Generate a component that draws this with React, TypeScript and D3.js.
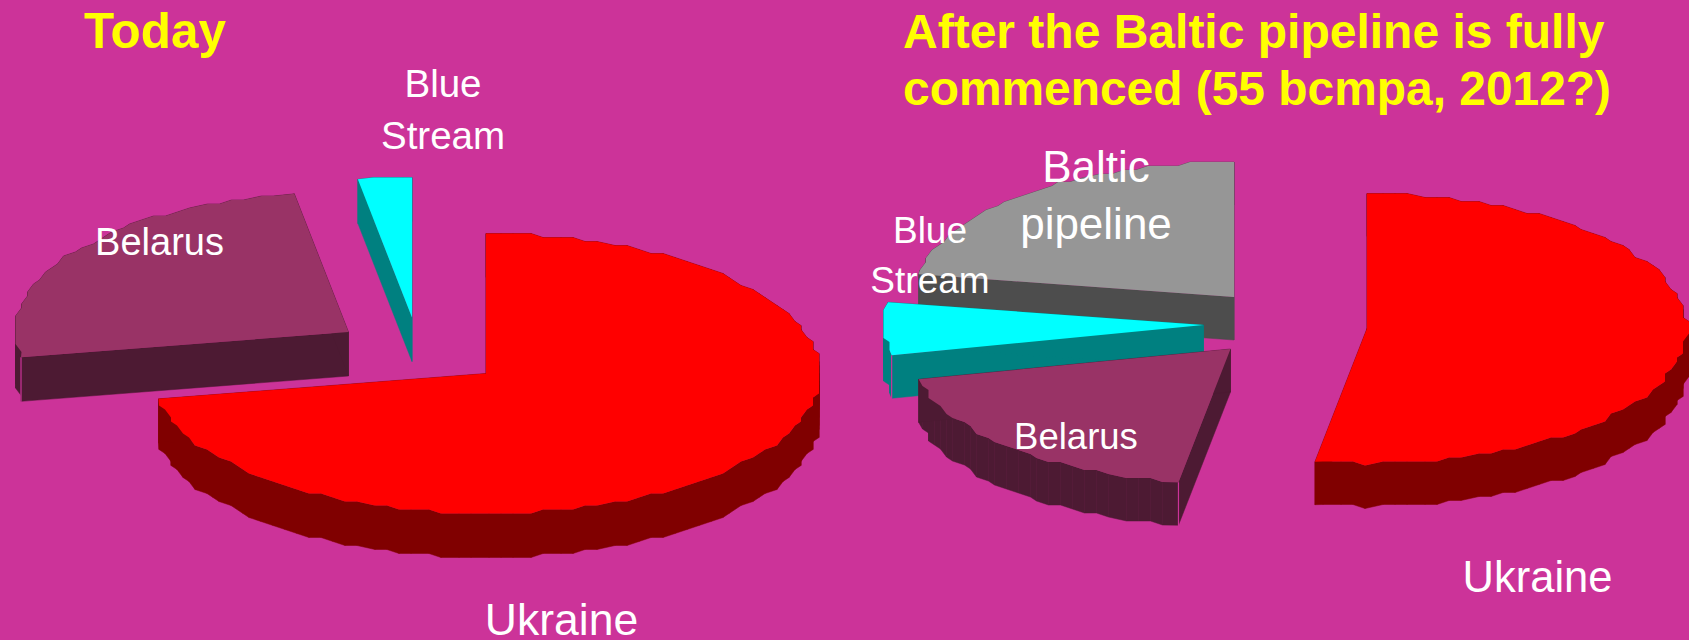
import React from "react";
import * as d3 from "d3";

// Shares of gas transit (percent)
const todayNames = ["Ukraine", "Belarus", "Blue Stream"];
const todayValues = [72.1, 25.3, 2.6];
const afterNames = ["Ukraine", "Belarus", "Blue Stream", "Baltic pipeline"];
const afterValues = [52.6, 18.8, 6.3, 22.3];

const BG = "#cc3399";
const topColors: Record<string, string> = {
  Ukraine: "#ff0000",
  Belarus: "#993366",
  "Blue Stream": "#00ffff",
  "Baltic pipeline": "#969696",
};
const wallColors: Record<string, string> = {
  Ukraine: "#800000",
  Belarus: "#4d1a33",
  "Blue Stream": "#008080",
  "Baltic pipeline": "#4d4d4d",
};

type Pt = [number, number];
const STEP = (2.5 * Math.PI) / 180;
const SNAP_X = 6;
const SNAP_Y = 4;

const line = d3.line<Pt>();

function slicePoints(cx: number, cy: number, rx: number, ry: number, a0: number, a1: number): Pt[] {
  const xs = d3.scaleLinear().domain([-1, 1]).range([cx - rx, cx + rx]);
  const ys = d3.scaleLinear().domain([-1, 1]).range([cy - ry, cy + ry]);
  const at = (a: number): Pt => [xs(Math.sin(a)), ys(-Math.cos(a))];
  const left = cx - rx;
  const top = cy - ry;
  const arc: Pt[] = [at(a0)];
  for (const a of d3.range(a0 + STEP, a1 - STEP / 2, STEP)) {
    const [x, y] = at(a);
    arc.push([left + Math.round((x - left) / SNAP_X) * SNAP_X, top + Math.round((y - top) / SNAP_Y) * SNAP_Y]);
  }
  arc.push(at(a1));
  return arc;
}

function Pie3D({
  names,
  values,
  rx,
  ry,
  depth,
  centers,
  order,
  seams,
}: {
  names: string[];
  values: number[];
  rx: number;
  ry: number;
  depth: number;
  centers: Record<string, Pt>;
  order: string[];
  seams: string[];
}) {
  const arcs = d3
    .pie<number>()
    .sort(null)
    .startAngle(0)
    .endAngle(2 * Math.PI)(values);
  const byName = new Map(names.map((n, i) => [n, arcs[i]]));
  return (
    <g>
      {order.map((name) => {
        const a = byName.get(name)!;
        const [cx, cy] = centers[name];
        const arc = slicePoints(cx, cy, rx, ry, a.startAngle, a.endAngle);
        const poly: Pt[] = [[cx, cy], ...arc];
        const corner = arc[0];
        return (
          <g key={name}>
            {poly.map((p, i) => {
              const q = poly[(i + 1) % poly.length];
              const quad: Pt[] = [p, q, [q[0], q[1] + depth], [p[0], p[1] + depth]];
              return <path key={i} d={line(quad)! + "Z"} fill={wallColors[name]} stroke={wallColors[name]} strokeWidth={0.5} />;
            })}
            {seams.includes(name) && (
              <line
                x1={corner[0]}
                x2={corner[0]}
                y1={corner[1]}
                y2={corner[1] + depth + 1}
                stroke={BG}
                strokeWidth={1.2}
              />
            )}
            <path d={line(poly)! + "Z"} fill={topColors[name]} />
          </g>
        );
      })}
    </g>
  );
}

const labelFont = "'Liberation Sans', Arial, sans-serif";

function Label({ x, y, size, lines, gap }: { x: number; y: number; size: number; lines: string[]; gap?: number }) {
  return (
    <>
      {lines.map((t, i) => (
        <text key={t} x={x} y={y + i * (gap ?? 0)} fontSize={size} fill="#ffffff" textAnchor="middle" fontFamily={labelFont}>
          {t}
        </text>
      ))}
    </>
  );
}

export default function App() {
  return (
    <svg
      width={1689}
      height={640}
      viewBox="0 0 1689 640"
      style={{ position: "fixed", left: 0, top: 0, display: "block" }}
    >
      <rect width={1689} height={640} fill={BG} />

      <Pie3D
        names={todayNames}
        values={todayValues}
        rx={333}
        ry={140}
        depth={44}
        centers={{ Ukraine: [486, 373.5], Belarus: [348.5, 332], "Blue Stream": [412, 317.5] }}
        order={["Belarus", "Blue Stream", "Ukraine"]}
        seams={["Belarus"]}
      />
      <Pie3D
        names={afterNames}
        values={afterValues}
        rx={320}
        ry={135}
        depth={43}
        centers={{
          Ukraine: [1367, 328.5],
          Belarus: [1230.5, 349],
          "Blue Stream": [1203.5, 325],
          "Baltic pipeline": [1234, 297],
        }}
        order={["Baltic pipeline", "Blue Stream", "Belarus", "Ukraine"]}
        seams={["Belarus", "Blue Stream"]}
      />

      <text x={84} y={48} fontSize={49.5} fontWeight="bold" fill="#ffff00" fontFamily={labelFont}>
        Today
      </text>
      <text x={903} y={48} fontSize={48} fontWeight="bold" fill="#ffff00" fontFamily={labelFont}>
        After the Baltic pipeline is fully
      </text>
      <text x={903} y={105} fontSize={47.9} fontWeight="bold" fill="#ffff00" fontFamily={labelFont}>
        commenced (55 bcmpa, 2012?)
      </text>

      <Label x={443} y={97} size={38.5} lines={["Blue", "Stream"]} gap={52} />
      <Label x={159.5} y={255} size={38} lines={["Belarus"]} />
      <Label x={561.5} y={635} size={44.5} lines={["Ukraine"]} />
      <Label x={1096} y={181.5} size={44} lines={["Baltic", "pipeline"]} gap={57.5} />
      <Label x={930} y={243} size={37} lines={["Blue", "Stream"]} gap={50} />
      <Label x={1076} y={449} size={36.5} lines={["Belarus"]} />
      <Label x={1537.5} y={592} size={43.5} lines={["Ukraine"]} />
    </svg>
  );
}
